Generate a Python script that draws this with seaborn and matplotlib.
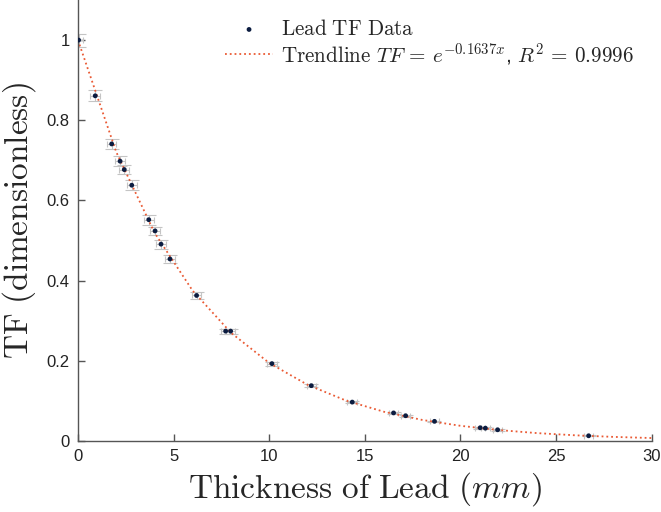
import numpy as np
import pandas as pd
import matplotlib
matplotlib.use('Agg')
import matplotlib.pyplot as plt
import seaborn as sns

thickness = [0.03, 0.90, 1.76, 2.20, 2.42, 2.81, 3.70, 4.03, 4.34, 4.81,
             6.20, 7.72, 7.98, 10.14, 12.20, 14.34, 16.50, 17.13, 18.64,
             21.03, 21.30, 21.94, 26.70]
tf = [1.000, 0.861, 0.741, 0.698, 0.677, 0.638, 0.552, 0.524, 0.491, 0.454,
      0.363, 0.274, 0.274, 0.193, 0.138, 0.097, 0.070, 0.063, 0.049,
      0.033, 0.032, 0.028, 0.013]
tf_err = [0.016, 0.014, 0.013, 0.013, 0.012, 0.012, 0.012, 0.011, 0.011, 0.010,
          0.008, 0.006, 0.006, 0.005, 0.004, 0.003, 0.003, 0.003, 0.002,
          0.002, 0.002, 0.002, 0.001]
thick_err = 0.25

# 추세선 계수 (범례에 적힌 값)
mu = 0.1637
trend_x = [0, 2, 4, 6, 8, 10, 12, 14, 16, 18, 20, 22, 24, 26, 28, 30]

df = pd.DataFrame({'x': thickness, 'tf': tf, 'err': tf_err})
trend = pd.DataFrame({'x': trend_x})
trend['tf'] = np.exp(-mu * trend['x'])

sns.set_style('ticks')
plt.rcParams['font.family'] = ['Liberation Sans', 'DejaVu Sans']
plt.rcParams['mathtext.fontset'] = 'cm'

fig = plt.figure(figsize=(6.61, 5.12), dpi=100)
ax = fig.add_axes([0.118, 0.1387, 0.868, 0.8613])

# 세로 오차막대 (캡 있음), 가로 오차막대 (짧은 캡)
ax.errorbar(df['x'], df['tf'], yerr=df['err'], fmt='none',
            ecolor='#c4c4c4', elinewidth=0.8, capsize=5, capthick=0.8, zorder=1)
ax.errorbar(df['x'], df['tf'], xerr=thick_err, fmt='none',
            ecolor='#c4c4c4', elinewidth=0.8, capsize=2, capthick=0.8, zorder=1)
sns.lineplot(data=trend, x='x', y='tf', ax=ax, color='#ea5a34', linestyle=':',
             linewidth=1.3, zorder=2,
             label=r'$\mathrm{Trendline}\ TF \,=\, e^{-0.1637x}$, $R^2 \,=\, 0.9996$')
sns.scatterplot(data=df, x='x', y='tf', ax=ax, color='#0b1c40', s=12,
                edgecolor='none', zorder=3, label=r'$\mathrm{Lead\ TF\ Data}$')

ax.set_xlim(0, 30)
ax.set_ylim(0, 1.1)
ax.set_xticks([0, 5, 10, 15, 20, 25, 30])
ax.set_yticks([0, 0.2, 0.4, 0.6, 0.8, 1.0])
ax.set_yticklabels(['0', '0.2', '0.4', '0.6', '0.8', '1'])
ax.tick_params(direction='in', length=5, width=1, color='#555555',
               labelsize=12, labelcolor='#222222', pad=6)
for side in ['top', 'right']:
    ax.spines[side].set_visible(False)
for side in ['left', 'bottom']:
    ax.spines[side].set_color('#555555')
    ax.spines[side].set_linewidth(1)

ax.set_xlabel(r'$\mathrm{Thickness\ of\ Lead}\ (mm)$', fontsize=24, labelpad=4)
ax.set_ylabel(r'$\mathrm{TF\ (dimensionless)}$', fontsize=24, labelpad=6)

handles, labels = ax.get_legend_handles_labels()
ax.legend(handles[::-1], labels[::-1], loc='upper right',
          bbox_to_anchor=(1.002, 1.0), frameon=False, fontsize=15.2,
          handlelength=2.3, handletextpad=0.37, labelspacing=0.1)

plt.savefig('out.png', dpi=100)
